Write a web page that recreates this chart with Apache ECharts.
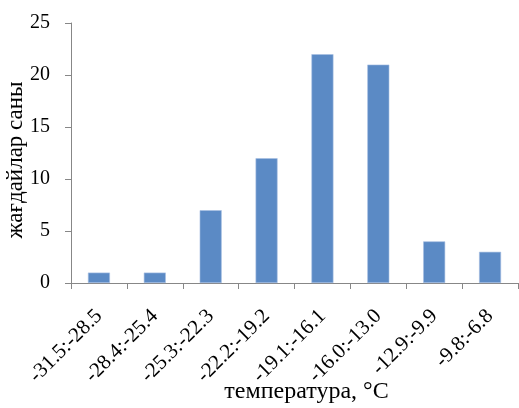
<!DOCTYPE html>
<html>
<head>
<meta charset="utf-8">
<script src="https://cdn.jsdelivr.net/npm/echarts@6/dist/echarts.min.js"></script>
<style>html,body{margin:0;padding:0;background:#fff}#c{width:519px;height:408px}</style>
</head>
<body>
<div id="c"></div>
<script>
var categories = ['-31.5:-28.5','-28.4:-25.4','-25.3:-22.3','-22.2:-19.2','-19.1:-16.1','-16.0:-13.0','-12.9:-9.9','-9.8:-6.8'];
var counts = [1, 1, 7, 12, 22, 21, 4, 3];
var yTicks = [0, 5, 10, 15, 20, 25];
var xTitle = 'температура, °С';
var yTitle = 'жағдайлар саны';

var font = 'Liberation Serif';
var chart = echarts.init(document.getElementById('c'), null, {renderer: 'canvas'});
chart.setOption({
  animation: false,
  backgroundColor: '#fff',
  grid: {left: 71, right: 1, top: 23, bottom: 125, containLabel: false, outerBoundsMode: 'none'},
  xAxis: {
    type: 'category',
    data: categories,
    name: xTitle,
    nameLocation: 'middle',
    nameGap: 97,
    nameMoveOverlap: false,
    nameTextStyle: {fontFamily: font, fontSize: 24, color: '#000', padding: [0, 0, 0, 24]},
    axisLine: {lineStyle: {color: '#878787', width: 1}},
    axisTick: {show: true, length: 6, lineStyle: {color: '#878787'}},
    axisLabel: {interval: 0, rotate: 45, margin: 30, fontFamily: font, fontSize: 21, color: '#000', verticalAlign: 'middle'},
    splitLine: {show: false}
  },
  yAxis: {
    type: 'value',
    min: yTicks[0],
    max: yTicks[yTicks.length - 1],
    interval: yTicks[1] - yTicks[0],
    name: yTitle,
    nameLocation: 'middle',
    nameGap: 44,
    nameMoveOverlap: false,
    nameTextStyle: {fontFamily: font, fontSize: 23, color: '#000', padding: [0, 14, 0, 0]},
    axisLine: {show: true, lineStyle: {color: '#878787', width: 1}},
    axisTick: {show: true, length: 6, lineStyle: {color: '#878787'}},
    axisLabel: {margin: 21, fontFamily: font, fontSize: 20, color: '#000'},
    splitLine: {show: false}
  },
  series: [{
    type: 'bar',
    data: counts,
    barWidth: 22,
    itemStyle: {color: '#5B8AC5', borderColor: '#A7C0E2', borderWidth: 0.6}
  }]
});
</script>
</body>
</html>
